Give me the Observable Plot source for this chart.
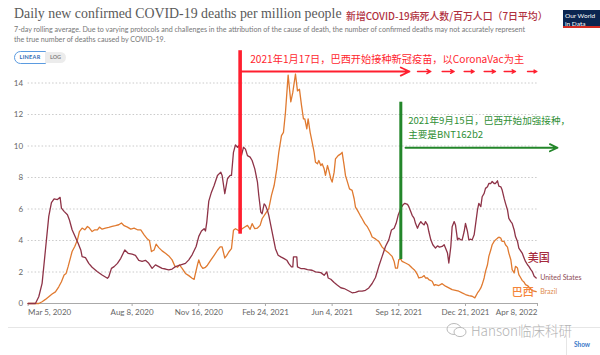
<!DOCTYPE html>
<html>
<head>
<meta charset="utf-8">
<script src="https://cdn.jsdelivr.net/npm/d3@7"></script>
<script src="https://cdn.jsdelivr.net/npm/@observablehq/plot@0.6"></script>
<style>
  html, body { margin: 0; padding: 0; background: #fff; }
  #page { position: relative; width: 600px; height: 355px; overflow: hidden; background: #fff; }
  .abs { position: absolute; white-space: nowrap; }
  #title { left: 14px; top: 6px; font-family: "Liberation Serif", "DejaVu Serif", serif; font-size: 15px; color: #5a5a5a; }
  #cnTitle { left: 346px; top: 9px; font-family: "Noto Sans CJK SC", sans-serif; font-size: 10px; font-weight: 500; color: #b0303e; }
  .sub { left: 14px; font-family: Lato, sans-serif; font-size: 7px; color: #777; }
  #sub1 { top: 25px; }
  #sub2 { top: 34.5px; }
  #btnLin { left: 14px; top: 51px; width: 30px; height: 11px; border: 1px solid #5b9be0; border-radius: 7px 0 0 7px;
            font: bold 5.5px Lato, sans-serif; color: #2f6bb5; text-align: center; line-height: 11px; letter-spacing: 0.3px; background: #fff; }
  #btnLog { left: 45px; top: 52px; width: 21px; height: 11px; background: #ececec; border-radius: 0 7px 7px 0;
            font: bold 5.5px Lato, sans-serif; color: #888; text-align: center; line-height: 11px; }
  #logo { left: 563px; top: 10px; width: 40px; height: 18px; background: #0b2550; border-bottom: 2px solid #d42b21;
          font: 6.5px Lato, sans-serif; color: #fff; line-height: 7.5px; padding: 2px 0 0 2px; box-sizing: border-box; }
  #chart { position: absolute; left: 0; top: 44px; }
  #hr { left: 8px; top: 327px; width: 592px; height: 1px; background: #e6e6e6; }
  #wm { left: 446px; top: 320px; font-family: "Noto Sans CJK SC", sans-serif; font-size: 13.5px; font-weight: 300;
        color: #b3b3b3; text-shadow: 0 0 2px #fff; display: flex; align-items: center; }
  #showBox { left: 566px; top: 333px; width: 40px; height: 30px; border-left: 1px solid #e6e6e6; }
  #show { left: 574px; top: 341px; font: bold 6.5px Lato, sans-serif; color: #3a78c8; }
</style>
</head>
<body>
<div id="page">
  <div id="title" class="abs">Daily new confirmed COVID-19 deaths per million people</div>
  <div id="cnTitle" class="abs">新增COVID-19病死人数/百万人口（7日平均）</div>
  <div id="sub1" class="abs sub">7-day rolling average. Due to varying protocols and challenges in the attribution of the cause of death, the number of confirmed deaths may not accurately represent</div>
  <div id="sub2" class="abs sub">the true number of deaths caused by COVID-19.</div>
  <div id="logo" class="abs">Our World<br>in Data</div>
  <div id="chart"></div>
  <div id="btnLin" class="abs">LINEAR</div>
  <div id="btnLog" class="abs">LOG</div>
  <div id="hr" class="abs"></div>
  <div id="wm" class="abs"><svg width="22" height="16" viewBox="0 0 22 16"><ellipse cx="8" cy="7" rx="7" ry="5.5" fill="none" stroke="#bbb" stroke-width="1"/><ellipse cx="14" cy="10" rx="6" ry="4.6" fill="#fff" stroke="#bbb" stroke-width="1"/></svg><span style="margin-left:3px">Hanson临床科研</span></div>
  <div id="showBox" class="abs"></div>
  <div id="show" class="abs">Show</div>
</div>
<script>
// ---------- data (days since 2020-03-05, 7-day avg deaths per million) ----------
const START = "2020-03-05";
const END = "2022-04-08";

const usDays = [0,11,16,21,26,31,35,39,44,48,50,54,59,62,66,71,75,79,81,86,91,96,104,111,119,121,125,129,134,139,145,150,156,161,166,171,176,181,186,191,196,201,206,211,216,221,229,236,241,246,252,256,260,264,266,268,271,275,279,284,289,291,295,299,303,305,308,311,314,316,320,323,326,329,333,336,340,344,346,349,351,354,356,359,361,364,368,371,375,379,384,388,391,395,397,398,403,404,409,414,419,426,431,439,444,448,450,454,459,464,469,474,479,486,491,496,501,506,511,516,521,526,531,536,541,545,549,552,555,559,562,565,569,571,574,576,579,581,584,586,589,591,594,596,599,601,604,607,611,614,617,621,624,626,629,631,634,636,639,641,644,646,649,651,654,656,659,661,664,666,669,671,674,676,679,681,684,686,689,691,694,696,699,701,704,706,709,711,714,716,719,721,724,726,729,731,734,736,741,744,746,749,751,754,756,759,762];
const usValues = [0,0,0.43,1.28,3.4,5.53,6.4,6.64,6.6,6.74,6.06,5.85,5.64,5.3,4.68,4.2,3.83,3.4,2.98,2.91,2.55,2.3,2.02,1.81,1.6,1.7,2.23,2.34,2.55,2.87,3.4,3.19,3.13,3.06,2.74,2.68,2.74,2.55,2.23,2.45,2.34,2.23,2.19,2.13,2.19,2.34,2.45,2.55,2.77,3.09,3.62,4.26,4.6,4.75,4.6,5.17,6.5,7.07,7.49,8.13,8.34,8.13,6.97,7.92,8.13,8.13,9.6,10.07,9.92,10.03,9.39,9.92,9.8,9.39,9.29,9.08,8.55,7.7,6.86,5.8,5.7,6.33,6.23,5.91,5.6,4.96,4.12,3.48,3.06,2.96,2.85,2.75,2.53,2.32,2.32,2.96,2.96,2.32,2.22,2.22,2.15,2.11,2.01,1.96,1.79,2.01,1.62,1.54,1.33,1.16,1.0,0.95,0.84,0.68,0.7,0.78,0.78,0.84,0.99,1.27,1.65,2.36,2.99,3.62,4.04,4.67,4.78,5.09,5.6,6.04,6.25,6.36,6.29,6.15,5.83,5.6,5.41,5.09,4.78,4.99,5.2,5.09,4.99,5.2,4.99,4.57,4.04,3.73,3.52,3.66,3.58,3.62,3.73,3.52,3.2,2.57,3.62,4.88,5.2,4.99,4.04,4.15,4.04,4.04,4.57,5.09,4.57,4.04,4.08,4.04,4.36,4.99,5.94,6.36,6.15,6.78,6.99,7.31,7.41,7.62,7.62,7.75,7.62,7.62,7.79,7.45,7.41,7.2,6.67,6.36,5.94,5.41,5.2,5.09,4.67,4.25,3.94,3.52,3.2,2.88,2.67,2.46,2.36,2.15,2.04,1.73,1.62];

const brazilDays = [0,16,21,26,31,36,41,46,50,54,57,60,64,66,70,74,77,81,85,89,92,96,100,104,107,111,116,121,126,131,136,140,144,149,154,159,164,169,174,179,182,185,189,192,196,201,206,211,216,220,224,227,231,236,241,246,249,251,254,256,259,262,266,269,274,279,284,288,291,295,298,301,305,308,311,315,318,321,325,329,333,336,340,344,348,351,356,361,365,369,373,376,380,383,386,390,394,397,401,404,407,410,413,415,418,420,423,426,429,431,434,436,439,441,444,446,449,451,454,456,459,461,465,469,471,474,476,479,482,486,489,491,494,498,501,505,509,513,516,521,526,531,536,541,546,549,551,554,556,559,561,566,571,576,579,581,584,586,591,594,596,599,601,606,609,611,616,621,626,631,636,641,646,651,656,661,666,670,674,676,679,681,684,686,689,691,694,696,699,701,704,706,709,711,714,716,719,721,724,726,729,731,734,736,739,741,744,746,749,751,754,756,762];
const brazilValues = [0,0,0.11,0.26,0.43,0.6,0.74,1.06,1.38,1.81,1.91,2.34,2.98,3.3,3.62,4.04,4.57,4.79,4.68,4.89,4.79,4.57,4.68,4.68,4.85,4.72,4.79,4.83,4.89,4.94,5.0,5.11,4.94,4.85,4.72,4.79,4.68,4.68,4.36,4.09,4.0,3.3,3.4,3.77,3.55,3.34,3.19,3.02,2.77,2.38,2.3,2.45,2.23,1.91,1.77,1.6,1.53,1.91,2.45,2.77,2.4,2.23,2.3,2.43,2.75,3.06,3.38,3.59,3.59,2.89,3.06,3.27,3.48,4.65,4.75,4.65,4.58,4.75,4.86,4.96,4.71,5.07,4.75,4.79,4.96,5.38,5.7,6.02,6.86,7.49,8.55,9.6,10.66,10.87,12.14,14.5,12.8,13.4,14.57,13.5,13.6,12.6,11.72,11.72,11.09,11.72,10.87,10.24,9.6,8.97,8.87,9.08,8.76,8.87,8.55,8.13,8.76,8.45,7.92,7.71,8.34,9.18,9.39,9.5,9.6,8.76,8.13,7.71,7.28,7.18,6.65,6.12,5.91,5.6,5.38,5.07,4.86,4.54,4.22,4.1,3.94,3.58,3.37,3.2,2.99,2.67,2.25,2.25,2.78,2.82,2.67,2.57,2.46,2.25,2.15,2.04,1.83,1.62,1.68,1.77,1.62,1.62,1.52,1.41,1.14,1.2,1.14,1.26,1.1,0.99,0.88,0.84,0.78,0.67,0.57,0.5,0.46,0.36,0.67,0.78,0.99,1.2,1.62,2.04,2.46,2.99,3.41,3.73,3.94,4.04,4.15,4.21,4.15,3.94,3.94,3.73,3.58,3.2,2.78,2.15,1.94,2.36,2.25,1.83,1.62,1.47,1.35,1.2,1.14,1.05,0.93,0.82,0.76];

const xTickDates = ["2020-03-05","2020-08-08","2020-11-16","2021-02-24","2021-06-04","2021-09-12","2021-12-21","2022-04-08"];
const xTickLabels = ["Mar 5, 2020","Aug 8, 2020","Nov 16, 2020","Feb 24, 2021","Jun 4, 2021","Sep 12, 2021","Dec 21, 2021","Apr 8, 2022"];
const yTicks = [0,2,4,6,8,10,12,14];

const seriesNames = ["United States","Brazil"];
const seriesCnNames = ["美国","巴西"];
const seriesColors = ["#8e3347","#e07a30"];

// annotations (dates as day offsets from START; y in data units)
const vaccineStartDate = "2021-01-17";
const boosterStartDate = "2021-09-15";
const redNote = "2021年1月17日，巴西开始接种新冠疫苗，以CoronaVac为主";
const greenNote = ["2021年9月15日，巴西开始加强接种，", "主要是BNT162b2"];
const redArrowDays = [[320, 572]];
const redDashArrowDays = [[584, 604], [621, 639], [654, 669], [684, 701], [714, 731], [749, 763]];
const greenArrowDays = [[566, 794]];

// ---------- build ----------
const t0 = new Date(START);
const day = d => d3.utcDay.offset(t0, d);
const usData = usDays.map((d, i) => ({date: day(d), value: usValues[i]}));
const brData = brazilDays.map((d, i) => ({date: day(d), value: brazilValues[i]}));
const tickDates = xTickDates.map(s => new Date(s));
const fmt = d => xTickLabels[tickDates.findIndex(t => +t === +d)];

const RED = "#ff1f2f", GREEN = "#23862a";
const CJK = "Noto Sans CJK SC";

const plot = Plot.plot({
  width: 600,
  height: 290,
  marginLeft: 27.6,
  marginRight: 63,
  marginTop: 38.5,
  marginBottom: 31,
  style: {fontFamily: "Lato, sans-serif", fontSize: "8px", color: "#666", background: "transparent", overflow: "visible"},
  x: {type: "utc", domain: [new Date(START), new Date(END)]},
  y: {domain: [0, 14]},
  marks: [
    Plot.gridY(yTicks.filter(v => v > 0), {stroke: "#c4c4c4", strokeOpacity: 1, strokeDasharray: "1.5,2", strokeWidth: 0.9}),
    Plot.axisY({ticks: yTicks, tickSize: 0, tickPadding: 5, fill: "#666", label: null}),
    Plot.ruleY([0], {stroke: "#aaa"}),
    Plot.axisX({ticks: tickDates.slice(0, 1), tickFormat: fmt, tickSize: 3, tickPadding: 3, textAnchor: "start", stroke: "#aaa", fill: "#666", label: null}),
    Plot.axisX({ticks: tickDates.slice(1, -1), tickFormat: fmt, tickSize: 3, tickPadding: 3, stroke: "#aaa", fill: "#666", label: null}),
    Plot.axisX({ticks: tickDates.slice(-1), tickFormat: fmt, tickSize: 3, tickPadding: 3, textAnchor: "end", stroke: "#aaa", fill: "#666", label: null}),
    Plot.line(brData, {x: "date", y: "value", stroke: seriesColors[1], strokeWidth: 1.3}),
    Plot.line(usData, {x: "date", y: "value", stroke: seriesColors[0], strokeWidth: 1.3}),
    // end labels
    Plot.text([usData[usData.length - 1]], {x: "date", y: "value", text: () => seriesNames[0], dx: 4, textAnchor: "start", fill: "#8e4a57", fontSize: 7}),
    Plot.text([brData[brData.length - 1]], {x: "date", y: "value", text: () => seriesNames[1], dx: 4, textAnchor: "start", fill: "#e08d4e", fontSize: 7}),
    Plot.text([{date: day(766), value: 2.83}], {x: "date", y: "value", text: () => seriesCnNames[0], fill: "#a52a3c", fontSize: 11, fontFamily: CJK, fontWeight: 500}),
    Plot.text([{date: day(742), value: 0.70}], {x: "date", y: "value", text: () => seriesCnNames[1], fill: "#f5853a", fontSize: 11, fontFamily: CJK, fontWeight: 500}),
    // red annotation
    Plot.ruleX([new Date(vaccineStartDate)], {y1: 4.4, y2: 16.05, stroke: RED, strokeWidth: 3.6}),
    Plot.arrow(redArrowDays, {x1: d => day(d[0]), x2: d => day(d[1]), y1: 14.73, y2: 14.73, stroke: RED, strokeWidth: 1.8, headLength: 8, headAngle: 50}),
    Plot.arrow(redDashArrowDays, {x1: d => day(d[0]), x2: d => day(d[1]), y1: 14.73, y2: 14.73, stroke: RED, strokeWidth: 1.4, headLength: 5, headAngle: 55}),
    Plot.text([redNote], {x: day(333.6), y: 15.49, text: d => d, textAnchor: "start", fill: RED, fontSize: 10.2, fontFamily: CJK}),
    // green annotation
    Plot.ruleX([new Date(boosterStartDate)], {y1: 2.79, y2: 12.78, stroke: GREEN, strokeWidth: 3}),
    Plot.arrow(greenArrowDays, {x1: d => day(d[0]), x2: d => day(d[1]), y1: 9.89, y2: 9.89, stroke: GREEN, strokeWidth: 1.8, headLength: 7, headAngle: 50}),
    Plot.text(greenNote, {x: day(570.6), y: (d, i) => [11.6, 10.7][i], text: d => d, textAnchor: "start", fill: "#2f8f35", fontSize: 9.6, fontFamily: CJK})
  ]
});
document.getElementById("chart").appendChild(plot);

// fit header text widths to the reference
function fitWidth(id, target) {
  const el = document.getElementById(id);
  el.style.display = "inline-block";
  const w = el.getBoundingClientRect().width;
  const fs = parseFloat(getComputedStyle(el).fontSize);
  el.style.fontSize = (fs * target / w) + "px";
}
fitWidth("title", 328);
fitWidth("cnTitle", 202);
fitWidth("sub1", 512);
document.getElementById("sub2").style.fontSize = document.getElementById("sub1").style.fontSize;
</script>
</body>
</html>
